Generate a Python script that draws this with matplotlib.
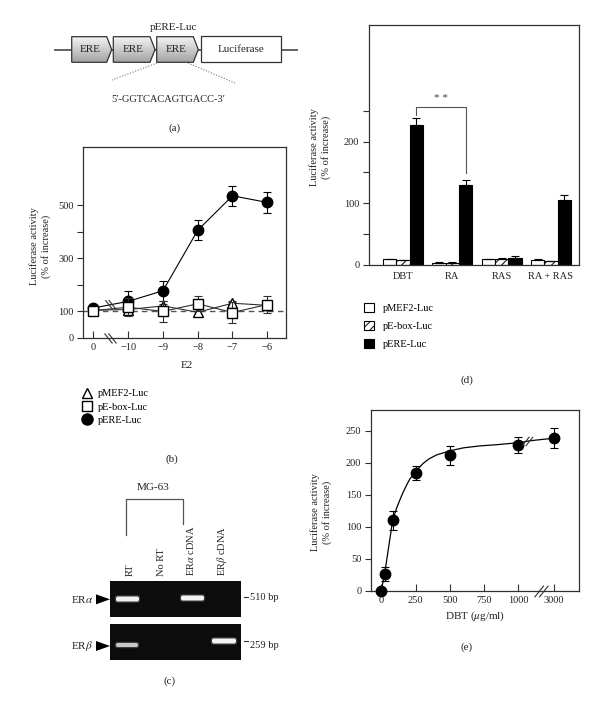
import numpy as np
import matplotlib
matplotlib.use('Agg')
import matplotlib.pyplot as plt
from matplotlib.patches import Polygon, Rectangle, Patch, FancyBboxPatch
from matplotlib.lines import Line2D
from matplotlib.path import Path
from matplotlib.colors import LinearSegmentedColormap

plt.rcParams['font.family'] = ['Liberation Serif', 'DejaVu Serif']
plt.rcParams['mathtext.fontset'] = 'stix'
plt.rcParams['font.size'] = 7.5
plt.rcParams['hatch.linewidth'] = 0.7
INK = '#303030'

# (b) E2 dose response, log M
e2_labels = ['0', '\u221210', '\u22129', '\u22128', '\u22127', '\u22126']
ere_b = [112, 137, 177, 405, 535, 510]
ere_b_err = [6, 38, 38, 38, 38, 38]
ebox_b = [102, 115, 99, 128, 95, 125]
ebox_b_err = [8, 34, 38, 28, 38, 31]
mef2_b = [104, 106, 120, 96, 130, 122]
mef2_b_err = [6, 8, 8, 6, 8, 8]

# (d) treatments
groups = ['DBT', 'RA', 'RAS', 'RA + RAS']
mef2_d = [9, 4, 9, 8.5]
mef2_d_err = [1, 0.5, 1, 0.8]
ebox_d = [7.5, 4, 9, 6]
ebox_d_err = [1, 0.5, 3, 1]
ere_d = [227, 130, 11, 106]
ere_d_err = [11, 8, 4, 7]

# (e) DBT dose response; 3000 sits past the axis break at position 1260
dbt_labels = ['0', '250', '500', '750', '1000', '3000']
dbt_ticks = [0, 250, 500, 750, 1000, 1260]
dbt_pos = [0, 25, 85, 250, 500, 1000, 1260]
dbt_act = [0, 26, 110, 184, 211, 228, 238]
dbt_err = [0, 11.5, 14.5, 11, 15.5, 12.5, 16]
fit_pos = [0, 27, 55, 83, 110, 136, 160, 185, 210, 241, 275, 307, 350,
           404, 450, 494, 600, 720, 850, 1000, 1084, 1170, 1260]
fit_act = [0, 30, 70, 110, 128, 142, 154, 165, 175, 183, 192, 199, 206,
           212, 215, 218, 223, 226, 228, 231, 234, 236, 238]

W, H = 600, 707
fig = plt.figure(figsize=(W / 100, H / 100), dpi=100)


def px_axes(left, top, right, bottom):
    return fig.add_axes([left / W, 1 - bottom / H, (right - left) / W, (bottom - top) / H])


def style(ax):
    for s in ax.spines.values():
        s.set_color(INK)
        s.set_linewidth(0.9)
    ax.tick_params(colors=INK, labelcolor='#222', width=0.8, labelsize=7.5)


def slash_marker(flip):
    verts = [(-1.2, -1), (0.4, 1), (-0.4, -1), (1.2, 1)]
    if flip:
        verts = [(-x, y) for x, y in verts]
    return Path(verts, [Path.MOVETO, Path.LINETO, Path.MOVETO, Path.LINETO])


def breaks(ax, x, y, flip, size):
    ax.plot([x], [y], marker=slash_marker(flip), ms=size, mfc='none', mec=INK,
            mew=0.8, ls='none', clip_on=False, zorder=6)


# ---------- (b)
ax_b = px_axes(83.3, 147, 285.7, 337.7)
style(ax_b)
xb = np.arange(len(e2_labels))
ax_b.axhline(100, color='#555555', lw=1, ls=(0, (4, 3)), zorder=1)
eb = dict(lw=0.8, capsize=3, elinewidth=0.8, capthick=0.8, mec='black')
ax_b.errorbar(xb, ere_b, yerr=ere_b_err, fmt='-o', color='black', mfc='black', ms=7.5, zorder=3, **eb)
ax_b.errorbar(xb, mef2_b, yerr=mef2_b_err, fmt='-^', color=INK, mfc='white', ms=7, zorder=4, **eb)
ax_b.errorbar(xb, ebox_b, yerr=ebox_b_err, fmt='-s', color=INK, mfc='white', ms=7, zorder=5, **eb)
ax_b.set_xlim(-0.29, 5.53)
ax_b.set_ylim(0, 719)
ax_b.set_xticks(xb, e2_labels)
ax_b.set_yticks(range(0, 501, 100), ['0', '100', '', '300', '', '500'])
ax_b.tick_params(axis='x', direction='in', length=5, pad=4)
ax_b.tick_params(axis='y', direction='out', length=4, pad=3)
breaks(ax_b, 0.48, 0, True, 8.6)
breaks(ax_b, 0.48, 128, True, 7.5)
fig.legend(handles=[Line2D([], [], marker='^', ls='none', mfc='white', mec='black', ms=7),
                    Line2D([], [], marker='s', ls='none', mfc='white', mec='black', ms=7.5),
                    Line2D([], [], marker='o', ls='none', mfc='black', mec='black', ms=8)],
           labels=['pMEF2-Luc', 'pE-box-Luc', 'pERE-Luc'], loc='upper left',
           bbox_to_anchor=(81.5 / W, 1 - 389 / H), frameon=False, borderpad=0,
           borderaxespad=0, handlelength=1.0, handletextpad=0.6, labelspacing=0.38,
           fontsize=7.5)

# ---------- (d)
ax_d = px_axes(369, 25, 579, 265)
style(ax_d)
xd = np.arange(len(groups))
bw = 0.27
ek = dict(capsize=3, elinewidth=0.8, capthick=0.8, ecolor='black')
ax_d.bar(xd - bw, mef2_d, bw, yerr=[np.zeros(4), mef2_d_err], color='white', edgecolor='black', lw=0.8, error_kw=ek)
ax_d.bar(xd, ebox_d, bw, yerr=[np.zeros(4), ebox_d_err], color='white', edgecolor='black', hatch='////', lw=0.8, error_kw=ek)
ax_d.bar(xd + bw, ere_d, bw, yerr=[np.zeros(4), ere_d_err], color='black', edgecolor='black', lw=0.8, error_kw=ek)
ax_d.set_xlim(-0.69, 3.57)
ax_d.set_ylim(0, 389)
ax_d.set_xticks(xd, groups)
ax_d.set_yticks(range(0, 251, 50), ['0', '', '100', '', '200', ''])
ax_d.tick_params(axis='x', length=0, pad=5)
ax_d.tick_params(axis='y', direction='out', length=4, pad=3)
bx0, bx1 = xd[0] + bw, xd[1] + bw
ax_d.plot([bx0, bx0, bx1, bx1], [243, 256, 256, 149], color='#555555', lw=0.8)
ax_d.text((bx0 + bx1) / 2, 262, '* *', ha='center', va='bottom', fontsize=8, color='#444')
fig.legend(handles=[Patch(fc='white', ec='black', lw=0.8),
                    Patch(fc='white', ec='black', lw=0.8, hatch='////'),
                    Patch(fc='black', ec='black', lw=0.8)],
           labels=['pMEF2-Luc', 'pE-box-Luc', 'pERE-Luc'], loc='upper left',
           bbox_to_anchor=(364 / W, 1 - 303 / H), frameon=False, borderpad=0,
           borderaxespad=0, handlelength=1.0, handleheight=1.0, handletextpad=0.85,
           labelspacing=0.75, fontsize=7.5)

# ---------- (e)
ax_e = px_axes(371, 410, 579, 590.7)
style(ax_e)
ax_e.plot(fit_pos, fit_act, color='black', lw=0.9, zorder=2)
ax_e.errorbar(dbt_pos, dbt_act, yerr=dbt_err, fmt='o', color='black', ms=7.5,
              capsize=3, elinewidth=0.8, capthick=0.8, zorder=3, clip_on=False)
ax_e.set_xlim(-75, 1441)
ax_e.set_ylim(0, 282)
ax_e.set_xticks(dbt_ticks, dbt_labels)
ax_e.set_yticks(range(0, 251, 50))
ax_e.tick_params(axis='x', direction='in', length=5, pad=4)
ax_e.tick_params(axis='y', direction='out', length=4, pad=3)
ax_e.set_xlabel('DBT ($\\mu$g/ml)', fontsize=8, color='#222', labelpad=3)
breaks(ax_e, 1164, 0, False, 10)
breaks(ax_e, 1062, 234, False, 8)

# ---------- overlay: diagram, gel, labels
ov = fig.add_axes([0, 0, 1, 1], zorder=10)
ov.patch.set_visible(False)
ov.axis('off')

ylab = 'Luciferase activity\n(% of increase)'
for x, y in [(40, 246), (320, 147), (321, 512)]:
    ov.text(x, y, ylab, rotation=90, ha='center', va='center', fontsize=7.5,
            color='#222', linespacing=1.25)
ov.text(187, 365, 'E2', ha='center', va='center', fontsize=8, color='#222')
for lab, x, y in [('(a)', 175, 128), ('(b)', 172, 459), ('(c)', 170, 681),
                  ('(d)', 467, 380), ('(e)', 467, 647)]:
    ov.text(x, y, lab, ha='center', va='center', fontsize=8, color='#222')

# diagram (a)
ov.plot([55, 297], [50, 50], color='#555555', lw=1.3, zorder=1)
cmap = LinearSegmentedColormap.from_list('g', ['#f6f6f6', '#a4a4a4'])
grad = np.linspace(0, 1, 64).reshape(-1, 1)
for x0, x1, tip in [(71.7, 106.7, 111.7), (113.3, 150, 155), (156.7, 193.3, 198.3)]:
    poly = Polygon([(x0, 36.7), (x1, 36.7), (tip, 49.5), (x1, 62.3), (x0, 62.3)],
                   closed=True, fc='none', ec='#333333', lw=0.9, zorder=3)
    ov.add_patch(poly)
    im = ov.imshow(grad, extent=(x0, tip, 62.3, 36.7), cmap=cmap, vmin=0, vmax=1,
                   aspect='auto', zorder=2)
    im.set_clip_path(poly)
    ov.text((x0 + x1) / 2 + 1, 49.5, 'ERE', ha='center', va='center', fontsize=8, color='#222', zorder=4)
ov.add_patch(Rectangle((201, 36.3), 80, 26, fc='white', ec='#333333', lw=0.9, zorder=3))
ov.text(241, 49.5, 'Luciferase', ha='center', va='center', fontsize=8, color='#222', zorder=4)
ov.text(173, 27, 'pERE-Luc', ha='center', va='center', fontsize=8, color='#222')
ov.plot([157, 112], [63, 80], color='#777777', lw=0.8, ls=(0, (1, 1.5)))
ov.plot([188, 235], [63, 83], color='#777777', lw=0.8, ls=(0, (1, 1.5)))
ov.text(168, 99, "5\u2032-GGTCACAGTGACC-3\u2032", ha='center', va='center', fontsize=7.5, color='#222')

# gel (c)
ov.text(153, 488, 'MG-63', ha='center', va='center', fontsize=8, color='#222')
ov.plot([126, 126, 183, 183], [535, 499, 499, 524], color='#555555', lw=0.9)
for x, lab in [(130, 'RT'), (161, 'No RT'), (191, 'ER$\\alpha$ cDNA'), (222, 'ER$\\beta$ cDNA')]:
    ov.text(x, 576, lab, rotation=90, ha='center', va='bottom', fontsize=7.5, color='#222')
for y0, y1 in [(581, 617), (624, 660)]:
    ov.add_patch(Rectangle((110, y0), 131, y1 - y0, fc='#0c0c0c', ec='none', zorder=1))
for xc, yc, w, h, c in [(127.5, 599, 23, 5, '#f0f0f0'), (192.5, 598, 23, 5, '#f4f4f4'),
                        (127, 645, 22, 4, '#c8c8c8'), (224, 641, 24, 5, '#f4f4f4')]:
    ov.add_patch(FancyBboxPatch((xc - w / 2, yc - h / 2), w, h, boxstyle='round,pad=1.2,rounding_size=2.5',
                                fc='#7a7a7a', alpha=0.45, ec='none', zorder=2))
    ov.add_patch(FancyBboxPatch((xc - w / 2 + 0.5, yc - h / 2 + 0.5), w - 1, h - 1,
                                boxstyle='round,pad=0.5,rounding_size=2',
                                fc=c, ec='none', zorder=3))
for yc, lab in [(599.3, 'ER$\\alpha$'), (646, 'ER$\\beta$')]:
    ov.add_patch(Polygon([(96, yc - 5), (96, yc + 5), (110, yc)], closed=True, fc='black', ec='none'))
    ov.text(93, yc, lab, ha='right', va='center', fontsize=8, color='#222')
ov.plot([244, 247.5], [597, 597], color='#333333', lw=0.8)
ov.text(249.5, 597, '510 bp', ha='left', va='center', fontsize=7.5, color='#222')
ov.plot([244, 247.5], [641, 641], color='#333333', lw=0.8)
ov.text(249.5, 645, '259 bp', ha='left', va='center', fontsize=7.5, color='#222')

ov.set_xlim(0, W)
ov.set_ylim(H, 0)

fig.savefig('out.png', dpi=100)
